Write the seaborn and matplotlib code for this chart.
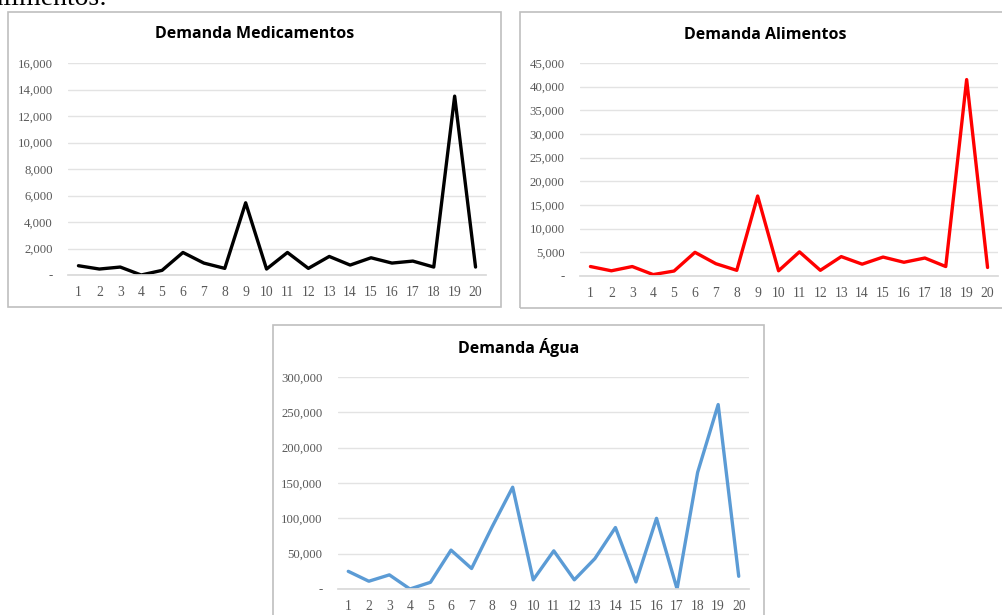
"""
Demanda de medicamentos, alimentos e água (estilo Excel)
"""
import matplotlib
matplotlib.use('Agg')
import matplotlib.pyplot as plt
import seaborn as sns
from matplotlib.patches import Rectangle
from matplotlib.ticker import FuncFormatter

sns.set_theme(style='white')

W, H = 1003, 615

periodos = list(range(1, 21))
medicamentos = [700, 450, 600, 0, 350, 1700, 900, 500, 5450, 450,
                1700, 500, 1400, 750, 1300, 900, 1050, 600, 13500, 600]
alimentos = [2000, 1100, 2000, 300, 1050, 5000, 2600, 1200, 16900, 1100,
             5100, 1200, 4100, 2500, 4000, 2900, 3800, 2000, 41500, 1800]
agua = [25000, 11000, 20000, 0, 9500, 55000, 29000, 88000, 144000, 13000,
        54000, 13000, 43000, 87000, 10000, 100000, 0, 165000, 261000, 18000]

COLORS = ['#000000', '#FF0000', '#5B9BD5']
SERIF = ['Liberation Serif', 'DejaVu Serif']
SANS = ['Open Sans', 'DejaVu Sans']


def fmt_excel(v, pos):
    return '-' if abs(v) < 1e-9 else f'{int(v):,}'


def box(fig, x0, y0, x1, y1):
    rect = Rectangle((x0 / W, 1 - y1 / H), (x1 - x0) / W, (y1 - y0) / H,
                     transform=fig.transFigure, fill=False,
                     edgecolor='#BFBFBF', lw=1.2)
    fig.add_artist(rect)


def chart(fig, plot_px, box_px, values, ymax, step, color, title, title_y):
    x0, y0, x1, y1 = plot_px
    box(fig, *box_px)
    ax = fig.add_axes([x0 / W, 1 - y1 / H, (x1 - x0) / W, (y1 - y0) / H])
    sns.lineplot(x=periodos, y=values, ax=ax, color=color, lw=2.4)
    ax.set_xlim(0.5, 20.5)
    ax.set_ylim(0, ymax)
    ax.set_yticks(range(0, ymax + 1, step))
    ax.set_xticks(periodos)
    ax.yaxis.set_major_formatter(FuncFormatter(fmt_excel))
    ax.grid(axis='y', color='#E3E3E3', lw=1)
    ax.set_axisbelow(True)
    for s in ['top', 'right', 'left']:
        ax.spines[s].set_visible(False)
    ax.spines['bottom'].set_color('#D9D9D9')
    ax.tick_params(axis='both', length=0, colors='#595959')
    ax.tick_params(axis='x', pad=8, labelsize=9.8)
    ax.tick_params(axis='y', pad=11, labelsize=9.2)
    for lab in ax.get_xticklabels() + ax.get_yticklabels():
        lab.set_family(SERIF)
    ax.set_xlabel('')
    ax.set_ylabel('')
    cx = (box_px[0] + box_px[2]) / 2
    fig.text(cx / W, 1 - title_y / H, title, ha='center', va='center',
             fontsize=11.5, fontweight='bold', family=SANS, color='black')
    return ax


fig = plt.figure(figsize=(W / 100, H / 100), dpi=100)
fig.patch.set_facecolor('white')

# texto cortado do documento original
fig.text(107 / W, 1 - 5 / H, 'alimentos:', ha='right', va='baseline',
         fontsize=20, family=SERIF, color='black')

chart(fig, (68, 63, 486, 275), (8, 12, 501, 307), medicamentos, 16000, 2000,
      COLORS[0], 'Demanda Medicamentos', 34)
chart(fig, (580, 63, 998, 276), (520, 12, 1010, 308), alimentos, 45000, 5000,
      COLORS[1], 'Demanda Alimentos', 35)
chart(fig, (338, 377, 749, 589), (273, 325, 764, 620), agua, 300000, 50000,
      COLORS[2], 'Demanda Água', 348)

plt.savefig('out.png', dpi=100)
plt.close()
